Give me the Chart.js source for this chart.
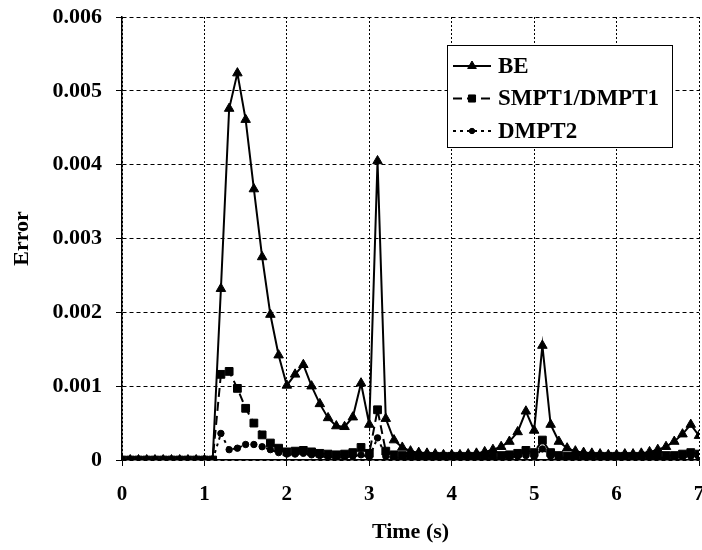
<!DOCTYPE html>
<html>
<head>
<meta charset="utf-8">
<script src="https://cdn.jsdelivr.net/npm/chart.js@4"></script>
<style>
  html, body { margin: 0; padding: 0; background: #fff; }
  #wrap { width: 702px; height: 550px; }
</style>
</head>
<body>
<div id="wrap"><canvas id="chart" width="702" height="550"></canvas></div>
<script>
// time (s), sampled every 0.1 s
const time = [
  0.0, 0.1, 0.2, 0.3, 0.4, 0.5, 0.6, 0.7, 0.8, 0.9,
  1.0, 1.1, 1.2, 1.3, 1.4, 1.5, 1.6, 1.7, 1.8, 1.9,
  2.0, 2.1, 2.2, 2.3, 2.4, 2.5, 2.6, 2.7, 2.8, 2.9,
  3.0, 3.1, 3.2, 3.3, 3.4, 3.5, 3.6, 3.7, 3.8, 3.9,
  4.0, 4.1, 4.2, 4.3, 4.4, 4.5, 4.6, 4.7, 4.8, 4.9,
  5.0, 5.1, 5.2, 5.3, 5.4, 5.5, 5.6, 5.7, 5.8, 5.9,
  6.0, 6.1, 6.2, 6.3, 6.4, 6.5, 6.6, 6.7, 6.8, 6.9,
  7.0
]

const seriesNames = ['BE', 'SMPT1/DMPT1', 'DMPT2']

const beError = [
  0, 0, 0, 0, 0, 0, 0, 0, 0, 0,
  0, 0, 0.00232, 0.00476, 0.00524, 0.00461, 0.00367, 0.00275, 0.00197, 0.00142,
  0.00101, 0.00116, 0.00129, 0.00100, 0.00076, 0.00057, 0.00046, 0.00045, 0.00058, 0.00104,
  0.00048, 0.00405, 0.00056, 0.00027, 0.00017, 0.00012, 0.00010, 0.00009, 0.00008, 0.00007,
  0.00007, 0.00007, 0.00008, 0.00009, 0.00011, 0.00014, 0.00018, 0.00025, 0.00038, 0.00066,
  0.00040, 0.00155, 0.00048, 0.00025, 0.00016, 0.00012, 0.00010, 0.00009, 0.00008, 0.00007,
  0.00007, 0.00008, 0.00008, 0.00009, 0.00011, 0.00014, 0.00018, 0.00025, 0.00035, 0.00048,
  0.00033
]

const smptError = [
  0, 0, 0, 0, 0, 0, 0, 0, 0, 0,
  0, 0, 0.00116, 0.00120, 0.00097, 0.00070, 0.00050, 0.00034, 0.00023, 0.00016,
  0.00011, 0.00012, 0.00013, 0.00011, 0.00009, 0.00008, 0.00007, 0.00008, 0.00010, 0.00017,
  0.00009, 0.00068, 0.00012, 0.00007, 0.00006, 0.00005, 0.00005, 0.00005, 0.00005, 0.00005,
  0.00005, 0.00005, 0.00005, 0.00005, 0.00005, 0.00006, 0.00006, 0.00007, 0.00009, 0.00013,
  0.00010, 0.00027, 0.00010, 0.00006, 0.00005, 0.00005, 0.00005, 0.00005, 0.00005, 0.00005,
  0.00005, 0.00005, 0.00005, 0.00005, 0.00005, 0.00005, 0.00006, 0.00006, 0.00008, 0.00010,
  0.00008
]

const dmpt2Error = [
  0, 0, 0, 0, 0, 0, 0, 0, 0, 0,
  0, 0, 0.00036, 0.00014, 0.00016, 0.00021, 0.00021, 0.00018, 0.00014, 0.00010,
  0.00008, 0.00008, 0.00009, 0.00007, 0.00006, 0.00005, 0.00004, 0.00004, 0.00005, 0.00007,
  0.00004, 0.00030, 0.00005, 0.00003, 0.00003, 0.00003, 0.00003, 0.00003, 0.00003, 0.00003,
  0.00003, 0.00003, 0.00003, 0.00003, 0.00003, 0.00003, 0.00003, 0.00004, 0.00005, 0.00006,
  0.00004, 0.00015, 0.00005, 0.00003, 0.00003, 0.00003, 0.00003, 0.00003, 0.00003, 0.00003,
  0.00003, 0.00003, 0.00003, 0.00003, 0.00003, 0.00003, 0.00003, 0.00004, 0.00004, 0.00005,
  0.00004
]

const xTickLabels = ['0', '1', '2', '3', '4', '5', '6', '7']
const yTickLabels = ['0', '0.001', '0.002', '0.003', '0.004', '0.005', '0.006']

const FONT = '"Liberation Serif", "Times New Roman", serif'

function points(ys) {
  return time.map((t, i) => ({ x: t, y: ys[i] }))
}

// legend drawn as a framed box with line + marker samples
const boxLegend = {
  id: 'boxLegend',
  afterDraw(chart) {
    const ctx = chart.ctx
    const left = 447, top = 45, w = 225, h = 102
    ctx.save()
    ctx.fillStyle = '#fff'
    ctx.fillRect(left, top, w, h)
    ctx.strokeStyle = '#000'
    ctx.lineWidth = 1
    ctx.setLineDash([])
    ctx.strokeRect(left + 0.5, top + 0.5, w, h)
    ctx.font = 'bold 23px ' + FONT
    ctx.textBaseline = 'middle'
    chart.data.datasets.forEach((ds, i) => {
      const y = top + 21 + i * 32.5
      ctx.strokeStyle = '#000'
      ctx.lineWidth = ds.borderWidth
      ctx.setLineDash(ds.borderDash || [])
      ctx.beginPath()
      ctx.moveTo(left + 6, y)
      ctx.lineTo(left + 44, y)
      ctx.stroke()
      ctx.setLineDash([])
      ctx.fillStyle = '#000'
      ctx.lineWidth = 1
      Chart.helpers.drawPoint(ctx, {
        pointStyle: ds.pointStyle,
        radius: ds.pointRadius - 0.5,
        borderWidth: 1
      }, left + 25, y)
      ctx.fillText(ds.label, left + 51, y + 1)
    })
    ctx.restore()
  }
}

new Chart(document.getElementById('chart'), {
  type: 'line',
  data: {
    datasets: [
      {
        label: seriesNames[0],
        data: points(beError),
        borderColor: '#000',
        backgroundColor: '#000',
        borderWidth: 2,
        pointStyle: 'triangle',
        pointRadius: 5.5,
        pointBorderWidth: 1,
        tension: 0
      },
      {
        label: seriesNames[1],
        data: points(smptError),
        borderColor: '#000',
        backgroundColor: '#000',
        borderWidth: 2,
        borderDash: [9, 5],
        pointStyle: 'rect',
        pointRadius: 5.5,
        pointBorderWidth: 1,
        tension: 0
      },
      {
        label: seriesNames[2],
        data: points(dmpt2Error),
        borderColor: '#000',
        backgroundColor: '#000',
        borderWidth: 2,
        borderDash: [3, 4],
        pointStyle: 'circle',
        pointRadius: 3.2,
        pointBorderWidth: 1,
        tension: 0
      }
    ]
  },
  options: {
    responsive: false,
    animation: false,
    layout: { autoPadding: false, padding: { top: 17, right: 3, left: 0, bottom: 0 } },
    plugins: {
      legend: { display: false },
      tooltip: { enabled: false }
    },
    scales: {
      x: {
        type: 'linear',
        min: 0,
        max: 7,
        afterFit: (scale) => {
          scale.height = 90
          scale.paddingLeft = 0
          scale.paddingRight = 0
        },
        ticks: {
          stepSize: 1,
          padding: 16,
          color: '#000',
          font: { family: FONT, size: 21, weight: 'bold' },
          callback: (v) => xTickLabels[v]
        },
        grid: { color: '#000', tickColor: '#000', tickLength: 6, lineWidth: 1 },
        border: { display: true, color: '#000', width: 1.5, dash: [2, 2] },
        title: {
          display: true,
          text: 'Time (s)',
          color: '#000',
          font: { family: FONT, size: 22, weight: 'bold' },
          padding: { top: 0, bottom: 4 }
        }
      },
      y: {
        min: 0,
        max: 0.006,
        afterFit: (scale) => {
          scale.width = 122
          scale.paddingTop = 0
          scale.paddingBottom = 0
        },
        ticks: {
          stepSize: 0.001,
          padding: 14,
          color: '#000',
          font: { family: FONT, size: 22, weight: 'bold' },
          callback: (v) => yTickLabels[Math.round(v * 1000)]
        },
        grid: { color: '#000', tickColor: '#000', tickLength: 6, lineWidth: 1 },
        border: { display: true, color: '#000', width: 1.5, dash: [4, 3] },
        title: {
          display: true,
          text: 'Error',
          color: '#000',
          font: { family: FONT, size: 22, weight: 'bold' },
          padding: { top: 9, bottom: 0 }
        }
      }
    }
  },
  plugins: [boxLegend]
})
</script>
</body>
</html>
